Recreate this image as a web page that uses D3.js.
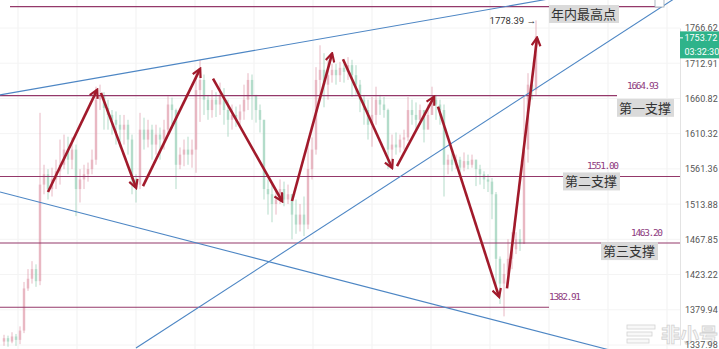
<!DOCTYPE html>
<html>
<head>
<meta charset="utf-8">
<script src="https://cdn.jsdelivr.net/npm/d3@7"></script>
<style>
  html, body { margin: 0; padding: 0; background: #fff; }
  svg { display: block; font-family: Roboto, 'Noto Sans', sans-serif; }
</style>
</head>
<body>
<div class="graphic_container"></div>
<script>
//candles (open of each candle = close of the one before)
const firstOpen = 1342;
const closes = [
  1346,1342,1348,1344,1355,1406,1418,1430,1415,1540,
  1554,1534,1547,1558,1567,1588,1574,1588,1534,1547,
  1554,1561,1574,1659,1666,1647,1637,1630,1623,1616,
  1623,1602,1547,1540,1616,1602,1616,1595,1609,1602,
  1616,1652,1644,1567,1581,1588,1581,1588,1673,1688,
  1659,1644,1659,1652,1666,1644,1630,1637,1630,1642,
  1659,1688,1666,1644,1630,1534,1527,1514,1520,1534,
  1520,1527,1500,1487,1500,1487,1561,1588,1688,1703,
  1681,1695,1703,1695,1706,1700,1710,1695,1681,1659,
  1644,1623,1637,1659,1652,1644,1588,1595,1591,1602,
  1605,1644,1637,1630,1644,1616,1637,1659,1652,1644,
  1567,1574,1567,1574,1563,1572,1567,1574,1561,1554,
  1547,1544,1527,1443,1412,1424,1443,1455,1468,1462,
  1588,1681,1673,1753.72
];
const highs = [
  1350,1349,1353,1351,1360,1414,1430,1440,1436,1640,
  1567,1561,1563,1574,1602,1609,1606,1605,1595,1561,
  1567,1570,1588,1678,1681,1670,1659,1644,1642,1637,
  1637,1630,1609,1554,1640,1633,1630,1623,1623,1619,
  1630,1664,1662,1646,1591,1602,1606,1602,1698,1718,
  1696,1666,1673,1670,1684,1676,1659,1652,1649,1652,
  1681,1698,1696,1659,1652,1630,1547,1540,1534,1547,
  1544,1540,1527,1520,1514,1524,1602,1605,1707,1740,
  1728,1718,1712,1712,1715,1712,1722,1718,1710,1688,
  1666,1659,1663,1678,1666,1663,1646,1609,1612,1609,
  1616,1663,1659,1655,1652,1644,1652,1678,1666,1659,
  1652,1581,1584,1581,1578,1584,1581,1581,1574,1567,
  1558,1554,1549,1530,1446,1437,1468,1477,1477,1481,
  1663,1698,1691,1778.39
];
const lows = [
  1337,1336,1340,1337,1339,1352,1403,1412,1408,1410,
  1527,1520,1524,1534,1540,1561,1554,1561,1498,1516,
  1534,1544,1554,1567,1644,1616,1616,1609,1595,1591,
  1595,1581,1527,1516,1534,1588,1591,1574,1581,1574,
  1588,1609,1623,1534,1561,1565,1567,1563,1556,1627,
  1637,1630,1633,1634,1637,1623,1606,1616,1620,1623,
  1630,1644,1630,1626,1612,1520,1500,1490,1500,1514,
  1511,1514,1468,1475,1478,1472,1481,1547,1581,1663,
  1648,1659,1684,1681,1685,1684,1688,1663,1666,1641,
  1623,1602,1592,1623,1637,1633,1561,1567,1581,1584,
  1588,1600,1623,1616,1623,1598,1623,1637,1630,1623,
  1524,1554,1558,1561,1554,1558,1561,1563,1538,1540,
  1534,1530,1494,1406,1387,1372,1412,1430,1449,1453,
  1462,1570,1659,1666
];

//price axis
const tickValues = [1766.62, 1712.91, 1660.82, 1610.32, 1561.36, 1513.88, 1467.85, 1423.22, 1379.94, 1337.98];
const lastPrice = 1753.72;
const lastTime = '03:32:30';
const yearHigh = 1778.39;
const yearHighIdx = 133;

//horizontal levels (time given as candle index)
const levelValues = [1800, 1664.93, 1551.00, 1463.20, 1382.91];
const levelFrom   = [1.5, -1, -1, -1, -1];
const levelTo     = [164, 153.25, 169, 169, 136.25];
const levelTextAt = [null, 155.75, 145.75, 156.75, 136.25];

//blue trend lines [idx, price] -> [idx, price]
const trendLines = [
  [[-1, 1666], [169, 1849]],
  [[-1, 1530], [169, 1311]],
  [[33, 1334.5], [169, 1818.5]]
];

//red swing arrows [idx, price] -> [idx, price]
const swings = [
  [[11, 1530], [23.25, 1673]],
  [[24.25, 1669], [33, 1536]],
  [[34.75, 1538], [49, 1704]],
  [[52.25, 1690], [69.5, 1518]],
  [[72, 1518], [82, 1727]],
  [[84.75, 1719], [97, 1563]],
  [[98.25, 1565], [107.5, 1663]],
  [[108.5, 1649], [123.75, 1396]],
  [[125.75, 1406], [133.25, 1751]]
];

//grey note boxes, top-left corner at [idx, price]
const noteTexts = ['年内最高点', '第一支撑', '第二支撑', '第三支撑'];
const noteIdx   = [136.25, 153.25, 139.75, 149.25];
const notePrice = [1802.6, 1660.3, 1556.5, 1464.3];

const width = 719, height = 349;
const plotW = 680;

const candles = closes.map((c, i) => ({
  i: i,
  open: i === 0 ? firstOpen : closes[i - 1],
  close: c,
  high: highs[i],
  low: lows[i]
}));

const svg = d3.select('.graphic_container')
  .append('svg')
  .attr('width', width)
  .attr('height', height);

const x = d3.scaleLinear().domain([-1, 169]).range([0, plotW]);
const y = d3.scaleLog().domain([1337.98, 1766.62]).range([345, 28]);

svg.append('defs').append('clipPath')
  .attr('id', 'plotClip')
  .append('rect')
  .attr('width', plotW)
  .attr('height', height);

svg.select('defs').append('marker')
  .attr('id', 'head')
  .attr('viewBox', '0 0 10 10')
  .attr('refX', 8)
  .attr('refY', 5)
  .attr('markerWidth', 4.2)
  .attr('markerHeight', 4.2)
  .attr('orient', 'auto')
  .append('path')
  .attr('d', 'M1,1 L8.5,5 L1,9')
  .attr('fill', 'none')
  .attr('stroke', '#a11a2b')
  .attr('stroke-width', 2)
  .attr('stroke-linejoin', 'miter');

const plot = svg.append('g').attr('clip-path', 'url(#plotClip)');

//faint grid
plot.append('g')
  .selectAll('line')
  .data(d3.range(3.5, 169, 14.75))
  .join('line')
  .attr('x1', d => x(d)).attr('x2', d => x(d))
  .attr('y1', 0).attr('y2', height)
  .attr('stroke', '#f1f1f1');

plot.append('g')
  .selectAll('line')
  .data(tickValues)
  .join('line')
  .attr('x1', 0).attr('x2', plotW)
  .attr('y1', d => y(d)).attr('y2', d => y(d))
  .attr('stroke', '#f4f4f4');

//watermark
const wm = svg.append('g').attr('opacity', 0.85);
wm.append('text')
  .attr('x', 661).attr('y', 342)
  .style('font-family', "'Noto Sans CJK SC', sans-serif")
  .style('font-size', '19px')
  .style('font-weight', 'bold')
  .attr('fill', '#f7f7f7')
  .attr('stroke', '#cccccc')
  .attr('stroke-width', 0.8)
  .text('非小号');
[0, 1, 2].forEach(k => {
  wm.append('rect')
    .attr('x', 627).attr('y', 325 + k * 7)
    .attr('width', 28 - k * 3).attr('height', 4)
    .attr('fill', '#f7f7f7')
    .attr('stroke', '#cccccc')
    .attr('stroke-width', 0.8);
});

//candles
const cg = plot.append('g').attr('opacity', 0.62);
const up = '#dc8ea0', down = '#86c7aa';

cg.selectAll('.wick')
  .data(candles)
  .join('line')
  .attr('class', 'wick')
  .attr('x1', d => x(d.i)).attr('x2', d => x(d.i))
  .attr('y1', d => y(d.high)).attr('y2', d => y(d.low))
  .attr('stroke', d => d.close >= d.open ? up : down)
  .attr('stroke-width', 1);

cg.selectAll('.body')
  .data(candles)
  .join('rect')
  .attr('class', 'body')
  .attr('x', d => x(d.i) - 1.2)
  .attr('width', 2.4)
  .attr('y', d => y(Math.max(d.open, d.close)))
  .attr('height', d => Math.max(1, Math.abs(y(d.open) - y(d.close))))
  .attr('fill', d => d.close >= d.open ? up : down);

//levels
plot.append('g')
  .selectAll('line')
  .data(levelValues)
  .join('line')
  .attr('x1', (d, i) => x(levelFrom[i]))
  .attr('x2', (d, i) => x(levelTo[i]))
  .attr('y1', d => y(d)).attr('y2', d => y(d))
  .attr('stroke', '#94386a')
  .attr('stroke-width', 1.1);

//trend lines
plot.append('g')
  .selectAll('line')
  .data(trendLines)
  .join('line')
  .attr('x1', d => x(d[0][0])).attr('y1', d => y(d[0][1]))
  .attr('x2', d => x(d[1][0])).attr('y2', d => y(d[1][1]))
  .attr('stroke', '#4d86c4')
  .attr('stroke-width', 1.1);

//drag handle where the rising line leaves the chart
svg.append('rect')
  .attr('x', 655).attr('y', -2)
  .attr('width', 9).attr('height', 9)
  .attr('fill', '#fff')
  .attr('stroke', '#9aa7b5')
  .attr('stroke-width', 0.8);

//red arrows
plot.append('g')
  .selectAll('line')
  .data(swings)
  .join('line')
  .attr('x1', d => x(d[0][0])).attr('y1', d => y(d[0][1]))
  .attr('x2', d => x(d[1][0])).attr('y2', d => y(d[1][1]))
  .attr('stroke', '#a11a2b')
  .attr('stroke-width', 2.6)
  .attr('marker-end', 'url(#head)');

//level value labels
svg.append('g')
  .selectAll('text')
  .data(levelValues.filter((d, i) => levelTextAt[i] !== null))
  .join('text')
  .attr('x', d => x(levelTextAt[levelValues.indexOf(d)]))
  .attr('y', d => y(d) - 7)
  .style('font-family', "'DejaVu Sans Mono', monospace")
  .style('font-size', '9.5px')
  .attr('textLength', 32)
  .attr('fill', '#8e3b7e')
  .text(d => d.toFixed(2));

//year high marker
svg.append('text')
  .attr('x', x(yearHighIdx))
  .attr('y', y(yearHigh) + 4)
  .attr('text-anchor', 'end')
  .style('font-size', '9.5px')
  .attr('fill', '#333')
  .text(`${yearHigh.toFixed(2)} →`);

//note boxes
const notes = svg.append('g')
  .selectAll('g')
  .data(noteTexts)
  .join('g')
  .attr('transform', (d, i) => `translate(${x(noteIdx[i])},${y(notePrice[i])})`);

notes.append('rect')
  .attr('width', d => d.length * 13 + 5)
  .attr('height', 18)
  .attr('fill', '#dadada');

notes.append('text')
  .attr('x', 2)
  .attr('y', 14)
  .style('font-family', "'Noto Sans CJK SC', sans-serif")
  .style('font-size', '13px')
  .attr('fill', '#333')
  .text(d => d);

//price axis
const axis = svg.append('g')
  .attr('transform', `translate(${plotW},0)`)
  .call(d3.axisRight(y).tickValues(tickValues).tickSize(0).tickPadding(5).tickFormat(d3.format('.2f')));

axis.select('.domain').attr('stroke', '#e3e3e3');
axis.selectAll('text')
  .style('font-family', 'Roboto, sans-serif')
  .style('font-size', '9px')
  .attr('fill', '#555');

//last price + countdown tags
const tag = svg.append('g').attr('transform', `translate(${plotW},${y(lastPrice) - 5})`);
tag.append('rect').attr('width', 39).attr('height', 27).attr('fill', '#2eb38a');
tag.append('line').attr('x1', 0).attr('x2', 3).attr('y1', 6.5).attr('y2', 6.5).attr('stroke', '#fff');
tag.append('text')
  .attr('x', 4.5).attr('y', 10)
  .style('font-size', '9px')
  .attr('fill', '#fff')
  .text(lastPrice.toFixed(2));
tag.append('text')
  .attr('x', 4.5).attr('y', 23.5)
  .style('font-size', '9px')
  .attr('fill', '#fff')
  .text(lastTime);
</script>
</body>
</html>
